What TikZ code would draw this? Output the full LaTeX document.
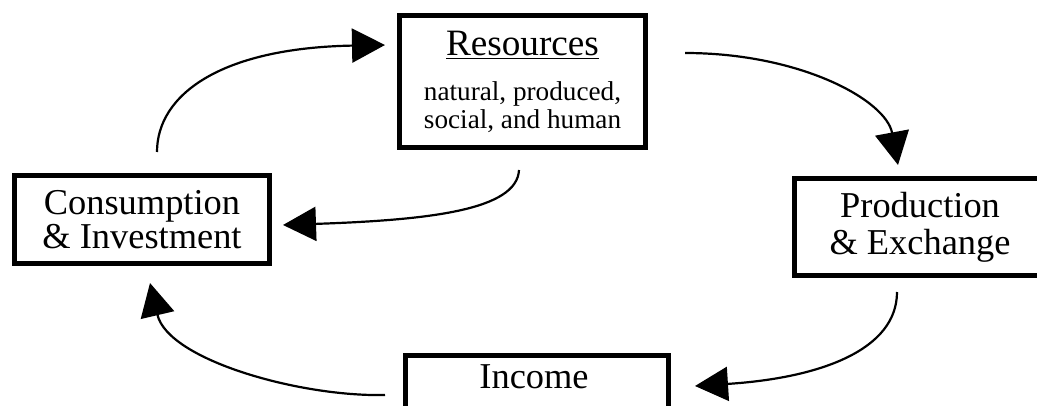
\documentclass[tikz,border=0pt]{standalone}
\usepackage{fontspec}
\setmainfont{Liberation Serif}
\usetikzlibrary{arrows.meta}
\begin{document}
\begin{tikzpicture}[x=0.5pt,y=-0.5pt,
  box/.style={draw=black,line width=2.5pt,rectangle,inner sep=0pt,align=center,
    font=\fontsize{18.2}{17}\selectfont},
  flow/.style={line width=1.1pt,-{Triangle[length=16.5pt,width=17pt]}}]
\useasboundingbox (0,0) rectangle (1037,406);
\clip (0,0) rectangle (1037,406);
% boxes
\node[box,minimum width=123pt,minimum height=66pt,font=\fontsize{13.6}{14}\selectfont] (res) at (522.5,81.5)
  {{\fontsize{18.6}{14}\selectfont\underline{Resources}}\\[8.5pt]
   natural, produced,\\social, and human};
\node[box,minimum width=127.5pt,minimum height=44pt] (con) at (142,219.5)
  {Consumption\\\& Investment};
\node[box,minimum width=125.5pt,minimum height=48.5pt] (pro) at (920,227)
  {Production\\[1.5pt]\& Exchange};
\node[box,anchor=north west,minimum width=131.5pt,minimum height=40pt] (inc) at (402.5,352.5) {};
\node[anchor=base,inner sep=0pt,font=\fontsize{18.2}{17}\selectfont] (inctext) at (534,388) {Income};
% connector end points
\coordinate (a1s) at (157,152);  \coordinate (a1e) at (385,45);
\coordinate (a2s) at (685,53);   \coordinate (a2e) at (898,165);
\coordinate (a3s) at (519,170);  \coordinate (a3e) at (283,225);
\coordinate (a4s) at (897,292);  \coordinate (a4e) at (695,386);
\coordinate (a5s) at (385,395);  \coordinate (a5e) at (150,283);
% connectors
\draw[flow] (a1s) .. controls (157,95) and (220,48) .. (a1e);
\draw[flow] (a2s) .. controls (800,53) and (886,100) .. (a2e);
\draw[flow] (a3s) .. controls (517,210) and (430,220) .. (a3e);
\draw[flow] (a4s) .. controls (897,350) and (820,378) .. (a4e);
\draw[flow] (a5s) .. controls (300,397) and (168,360) .. (a5e);
\end{tikzpicture}
\end{document}
